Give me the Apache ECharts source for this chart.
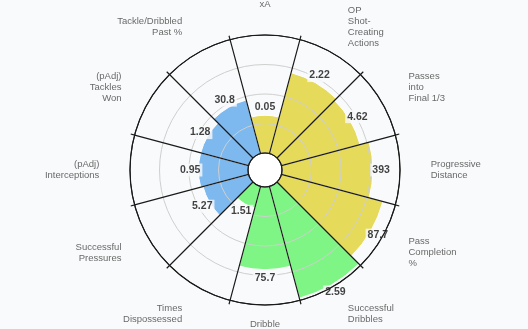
<!DOCTYPE html>
<html>
<head>
<meta charset="utf-8">
<script src="https://cdn.jsdelivr.net/npm/echarts@6/dist/echarts.min.js"></script>
<style>
  html, body { margin: 0; padding: 0; background: #f9fafb; }
  #chart { width: 528px; height: 329px; }
</style>
</head>
<body>
<div id="chart"></div>
<script>
// Player profile: percentile ranks per metric, with the raw stat printed at each slice
const categories = [
  'xA',
  'OP\nShot-\nCreating\nActions',
  'Passes\ninto\nFinal 1/3',
  'Progressive\nDistance',
  'Pass\nCompletion\n%',
  'Successful\nDribbles',
  'Dribble\nSuccess\n%',
  'Times\nDispossessed',
  'Successful\nPressures',
  '(pAdj)\nInterceptions',
  '(pAdj)\nTackles\nWon',
  'Tackle/Dribbled\nPast %'
];
const percentiles = [32, 71, 69, 77, 89, 98, 70, 19, 40, 42, 42, 47];
const statValues = ['0.05', '2.22', '4.62', '393', '87.7', '2.59', '75.7', '1.51', '5.27', '0.95', '1.28', '30.8'];
// 0 = attacking/passing, 1 = possession, 2 = defending
const groupOf = [0, 0, 0, 0, 0, 1, 1, 1, 2, 2, 2, 2];
const groupColors = ['#e6da5a', '#7ef585', '#7db8ee'];
const radiusTicks = [0, 25, 50, 75, 100];

const bg = '#f9fafb';
const ink = '#1a1a1a';
const center = [265, 170];
const innerR = 17;
const outerR = 135;
const step = 360 / categories.length;

function alignFor(i) {
  const a = (90 - i * step) * Math.PI / 180;
  const c = Math.cos(a);
  return Math.abs(c) < 0.2 ? 'center' : (c > 0 ? 'left' : 'right');
}

const chart = echarts.init(document.getElementById('chart'), null, { renderer: 'canvas' });

chart.setOption({
  backgroundColor: bg,
  animation: false,
  polar: { center: center, radius: [innerR, outerR] },
  angleAxis: {
    type: 'category',
    data: categories,
    startAngle: 90 + step / 2,
    clockwise: true,
    boundaryGap: true,
    z: 6,
    axisLine: { show: true, lineStyle: { color: ink, width: 1.2 } },
    axisTick: { show: true, length: 4, lineStyle: { color: ink, width: 1.2 } },
    axisLabel: { show: false },
    splitLine: { show: true, lineStyle: { color: ink, width: 1.2 } }
  },
  radiusAxis: {
    type: 'value',
    min: radiusTicks[0],
    max: radiusTicks[radiusTicks.length - 1],
    interval: radiusTicks[1] - radiusTicks[0],
    z: 3,
    axisLine: { show: false },
    axisTick: { show: false },
    axisLabel: { show: false },
    splitLine: {
      show: true,
      lineStyle: { color: [ink, '#cfcfcf', '#cfcfcf', '#cfcfcf', ink], width: 1 }
    }
  },
  series: [
    {
      type: 'bar',
      coordinateSystem: 'polar',
      barCategoryGap: '0%',
      silent: true,
      z: 2,
      itemStyle: { borderColor: '#ffffff', borderWidth: 1 },
      data: percentiles.map((v, i) => ({ value: v, itemStyle: { color: groupColors[groupOf[i]] } }))
    },
    {
      // white hub in the middle of the pizza
      type: 'pie',
      center: center,
      radius: [0, innerR],
      silent: true,
      z: 1,
      label: { show: false },
      labelLine: { show: false },
      itemStyle: { color: '#ffffff' },
      data: [{ value: 1 }]
    },
    {
      // raw stat values just beyond each bar end
      type: 'scatter',
      coordinateSystem: 'polar',
      clip: false,
      silent: true,
      symbolSize: 0,
      z: 5,
      label: {
        show: true,
        position: 'inside',
        fontFamily: 'Liberation Sans, Arial, sans-serif',
        fontSize: 10.5,
        fontWeight: 'bold',
        color: '#111111',
        backgroundColor: bg,
        padding: [1, 2],
        formatter: p => statValues[p.dataIndex]
      },
      data: percentiles.map((v, i) => [v + 7, i])
    },
    {
      // metric names around the rim
      type: 'scatter',
      coordinateSystem: 'polar',
      clip: false,
      silent: true,
      symbolSize: 0,
      z: 5,
      label: {
        show: true,
        position: 'inside',
        fontFamily: 'Liberation Sans, Arial, sans-serif',
        fontSize: 9.5,
        lineHeight: 11,
        color: '#444444',
        verticalAlign: 'middle',
        formatter: p => categories[p.dataIndex]
      },
      data: categories.map((c, i) => ({ value: [126, i], label: { align: alignFor(i) } }))
    }
  ]
});
</script>
</body>
</html>
